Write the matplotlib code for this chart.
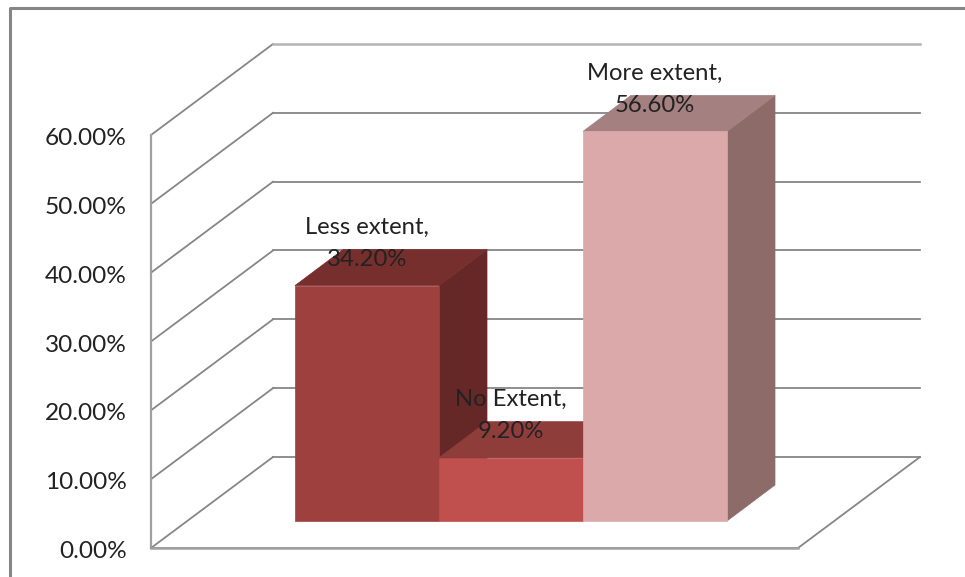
import matplotlib
matplotlib.use("Agg")
import matplotlib.pyplot as plt
from matplotlib.patches import Polygon

categories = ["Less extent", "No Extent", "More extent"]
values = [34.2, 9.2, 56.6]
value_labels = ["34.20%", "9.20%", "56.60%"]
y_ticks = [0, 10, 20, 30, 40, 50, 60]
y_labels = ["0.00%", "10.00%", "20.00%", "30.00%", "40.00%", "50.00%", "60.00%"]

front_colors = ["#9E413E", "#C0504D", "#DBA9A9"]
top_colors = ["#772F2D", "#8F3D3A", "#A58080"]
side_colors = ["#652826", "#7A3432", "#8C6B69"]

W, H = 965, 577
PX_X = 144.0        # pixels per category
PX_Y = 413 / 60.0   # pixels per percent
X0 = 330.5          # pixel of category 0
Y0 = 548            # pixel of 0%

# depth of the box and of the bars, in data units
BOX_DX, BOX_DY = 122 / PX_X, 91 / PX_Y
GAP_DX, GAP_DY = 36.5 / PX_X, 27 / PX_Y
BAR_DX, BAR_DY = 48 / PX_X, 36 / PX_Y

LEFT = (151 - X0) / PX_X
RIGHT = (798 - X0) / PX_X
GRID = "#868686"

plt.rcParams["font.family"] = ["Lato", "DejaVu Sans"]

fig = plt.figure(figsize=(W / 100, H / 100), dpi=100)
ax = fig.add_axes([0, 0, 1, 1])
ax.set_xlim(-X0 / PX_X, (W - X0) / PX_X)
ax.set_ylim((Y0 - H) / PX_Y, Y0 / PX_Y)
ax.axis("off")

# outer chart border, only left and top survive in the picture
bx = (10 - X0) / PX_X
by = (Y0 - 7.5) / PX_Y
ax.plot([bx, bx, ax.get_xlim()[1]], [ax.get_ylim()[0], by, by], color="#868686", lw=2.2, zorder=1)

# walls and gridlines
for t, lab in zip(y_ticks, y_labels):
    ax.plot([LEFT, LEFT + BOX_DX], [t, t + BOX_DY], color=GRID, lw=1.3, zorder=2)
    if t == 60:
        ax.plot([LEFT + BOX_DX, RIGHT + BOX_DX], [t + BOX_DY, t + BOX_DY], color="#B4B4B4", lw=1.8, zorder=2)
    else:
        ax.plot([LEFT + BOX_DX, RIGHT + BOX_DX], [t + BOX_DY, t + BOX_DY], color=GRID, lw=1.3, zorder=2)
    ax.text((127 - X0) / PX_X, t - 3.5 / PX_Y, lab, ha="right", va="center", fontsize=17.6, color="#222222")

ax.plot([LEFT, LEFT], [0, 60], color="#A0A0A0", lw=1.6, zorder=2)
ax.plot([LEFT, RIGHT, RIGHT + BOX_DX], [0, 0, BOX_DY], color=GRID, lw=1.3, zorder=2)
ax.plot([LEFT, RIGHT], [0, 0], color="#A0A0A0", lw=1.8, zorder=2)

# bars, drawn left to right so the next front face covers the previous depth
for i, v in enumerate(values):
    x1, x2 = i - 0.5 + GAP_DX, i + 0.5 + GAP_DX
    y1, y2 = GAP_DY, GAP_DY + v
    ax.add_patch(Polygon([(x2, y1), (x2 + BAR_DX, y1 + BAR_DY), (x2 + BAR_DX, y2 + BAR_DY), (x2, y2)],
                         fc=side_colors[i], ec=side_colors[i], lw=0.5, zorder=3))
    ax.add_patch(Polygon([(x1, y2), (x2, y2), (x2 + BAR_DX, y2 + BAR_DY), (x1 + BAR_DX, y2 + BAR_DY)],
                         fc=top_colors[i], ec=top_colors[i], lw=0.5, zorder=3))
    ax.add_patch(Polygon([(x1, y1), (x2, y1), (x2, y2), (x1, y2)],
                         fc=front_colors[i], ec=front_colors[i], lw=0.5, zorder=3))

# data labels sit over the bar tops
for i, v in enumerate(values):
    ax.text(i + GAP_DX, GAP_DY + v + 6.1, categories[i] + ",\n" + value_labels[i], ha="center", va="center",
            fontsize=17.2, color="#222222", linespacing=1.65, zorder=5)

fig.savefig("out.png", dpi=100)
